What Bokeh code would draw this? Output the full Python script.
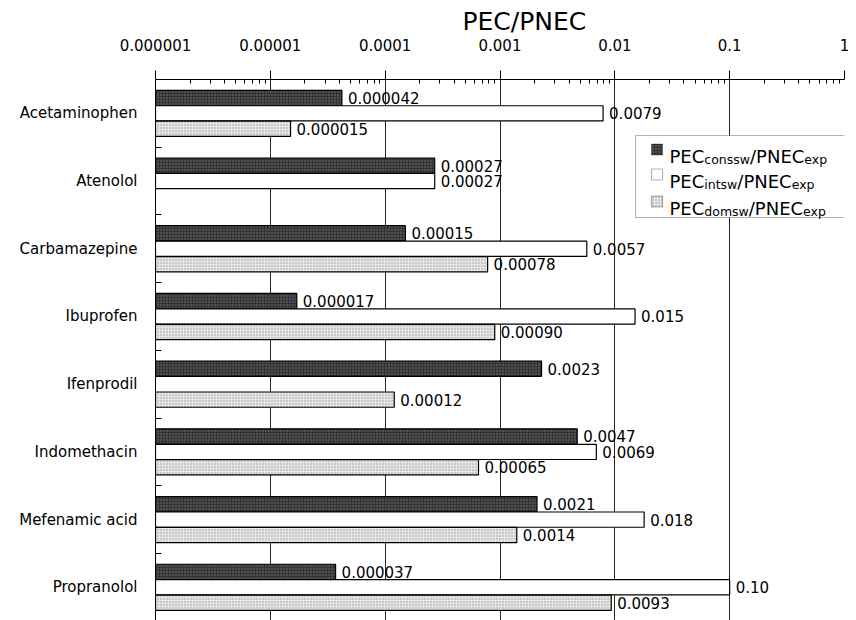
from bokeh.plotting import figure
from bokeh.models import (Range1d, FixedTicker, CustomJSTickFormatter, ColumnDataSource,
                          BoxAnnotation, Label, Title)
from bokeh.core.properties import value
from bokeh.embed import file_html
from bokeh.resources import INLINE

# ---------------- data ----------------
drugs = ["Acetaminophen", "Atenolol", "Carbamazepine", "Ibuprofen",
         "Ifenprodil", "Indomethacin", "Mefenamic acid", "Propranolol"]
cons_vals = [0.000042, 0.00027, 0.00015, 0.000017, 0.0023, 0.0047, 0.0021, 0.000037]
int_vals = [0.0079, 0.00027, 0.0057, 0.015, None, 0.0069, 0.018, 0.10]
dom_vals = [0.000015, None, 0.00078, 0.00090, 0.00012, 0.00065, 0.0014, 0.0093]
cons_lbls = ["0.000042", "0.00027", "0.00015", "0.000017", "0.0023", "0.0047", "0.0021", "0.000037"]
int_lbls = ["0.0079", "0.00027", "0.0057", "0.015", None, "0.0069", "0.018", "0.10"]
dom_lbls = ["0.000015", None, "0.00078", "0.00090", "0.00012", "0.00065", "0.0014", "0.0093"]
tick_vals = [1e-6, 1e-5, 1e-4, 1e-3, 1e-2, 1e-1, 1.0]
tick_labels = ["0.000001", "0.00001", "0.0001", "0.001", "0.01", "0.1", "1"]
axis_title = "PEC/PNEC"
legend_parts = [
    ("PEC", "conssw", "/PNEC", "exp"),
    ("PEC", "intsw", "/PNEC", "exp"),
    ("PEC", "domsw", "/PNEC", "exp"),
]

# ---------------- layout constants ----------------
W, H = 856, 620
LEFT, RIGHT, TOP = 155, 12, 79
FRAME_W = W - LEFT - RIGHT
FRAME_H = H - TOP
Y_SPAN = 7.99
CAT_PX = FRAME_H / Y_SPAN
FONT = "DejaVu Sans"
BAR_H = 0.225
OFFS = [-0.228, 0.0, 0.228]

n = len(drugs)

def px2x(px):
    return 10 ** ((px - LEFT) / FRAME_W * 6 - 6)

def px2y(py):
    return (py - TOP) / CAT_PX

p = figure(width=W, height=H, x_axis_type="log", x_axis_location="above",
           output_backend="svg", toolbar_location=None,
           x_range=Range1d(1e-6, 1.0), y_range=Range1d(Y_SPAN, 0),
           min_border_left=LEFT, min_border_right=RIGHT, min_border_top=TOP,
           min_border_bottom=0, outline_line_color=None,
           background_fill_color="white", border_fill_color="white")

# top axis
xa = p.xaxis[0]
minors = []
for d in tick_vals[:-1]:
    for k in range(2, 10):
        minors.append(d * k)
xa.ticker = FixedTicker(ticks=tick_vals, minor_ticks=minors)
xa.formatter = CustomJSTickFormatter(args=dict(labels=tick_labels),
                                     code="return labels[index];")
xa.major_label_text_font = FONT
xa.major_label_text_font_size = "15px"
xa.major_label_text_color = "black"
xa.major_label_standoff = 20
xa.major_tick_out = 9
xa.major_tick_in = 0
xa.minor_tick_out = 0
xa.minor_tick_in = 4
xa.axis_line_color = "black"
xa.major_tick_line_color = "black"
xa.minor_tick_line_color = "black"

# title above the axis
p.add_layout(Title(text=axis_title, align="left", offset=307, text_font=FONT,
                   text_font_size="25px", text_font_style="normal", text_color="black",
                   standoff=0), "above")

# left axis
ya = p.yaxis[0]
centers = [i + 0.5 for i in range(n)]
bounds = [float(i) for i in range(1, n)]
ya.ticker = FixedTicker(ticks=centers, minor_ticks=bounds)
ya.formatter = CustomJSTickFormatter(args=dict(labels=drugs), code="return labels[index];")
ya.major_label_text_font = FONT
ya.major_label_text_font_size = "15px"
ya.major_label_text_color = "black"
ya.major_label_standoff = 18
ya.major_tick_out = 0
ya.major_tick_in = 0
ya.minor_tick_in = 6
ya.minor_tick_out = 0
ya.axis_line_color = "black"
ya.minor_tick_line_color = "black"

p.ygrid.grid_line_color = None
p.xgrid.grid_line_color = "black"
p.xgrid.grid_line_alpha = 0.85
p.xgrid.ticker = FixedTicker(ticks=tick_vals)

# ---------------- bars ----------------
series = [
    (cons_vals, cons_lbls, dict(fill_color="#333333", hatch_pattern=".", hatch_color="#7a7a7a",
                                hatch_scale=3, hatch_weight=1)),
    (int_vals, int_lbls, dict(fill_color="white")),
    (dom_vals, dom_lbls, dict(fill_color="#e6e6e6", hatch_pattern=".", hatch_color="#9a9a9a",
                              hatch_scale=3, hatch_weight=1)),
]
for (vals, lbls, style), off in zip(series, OFFS):
    ys, xs, ls = [], [], []
    for i, (v, l) in enumerate(zip(vals, lbls)):
        if v is None:
            continue
        ys.append(i + 0.5 + off)
        xs.append(v)
        ls.append(l)
    src = ColumnDataSource(dict(y=ys, right=xs, lbl=ls))
    p.hbar(y="y", right="right", left=1e-6, height=BAR_H, source=src,
           line_color="black", line_width=1.2, **style)
    p.text(x="right", y="y", text="lbl", source=src, x_offset=6,
           text_baseline="middle", text_align="left", text_font_size="15px",
           text_font=value(FONT), text_color="black")

# ---------------- legend ----------------
p.add_layout(BoxAnnotation(left=px2x(635), right=px2x(848), top=px2y(135), bottom=px2y(217),
                           fill_color="white", fill_alpha=1.0, line_color="black",
                           line_width=1, level="overlay"))
sq_styles = [
    dict(fill_color="#333333", hatch_pattern=".", hatch_color="#7a7a7a", hatch_scale=3),
    dict(fill_color="white"),
    dict(fill_color="#e6e6e6", hatch_pattern=".", hatch_color="#9a9a9a", hatch_scale=3),
]
row_y = [149, 174, 201]
MAIN, SUB = 18, 12.5
wtab = {"P": .603, "E": .632, "C": .698, "N": .748, "/": .337, "c": .550, "o": .612,
        "n": .634, "s": .521, "w": .818, "i": .278, "t": .392, "d": .635, "m": .974,
        "e": .615, "x": .592, "p": .635}

def tw(s, size):
    return sum(wtab.get(ch, 0.6) for ch in s) * size

for parts, ry, st in zip(legend_parts, row_y, sq_styles):
    p.add_layout(BoxAnnotation(left=px2x(651), right=px2x(662), top=px2y(ry - 5.5),
                               bottom=px2y(ry + 5.5), fill_alpha=1.0, line_color="black",
                               line_width=1.2, level="overlay", **st))
    xo = 0.0
    for j, part in enumerate(parts):
        size = MAIN if j % 2 == 0 else SUB
        base = ry + 6.5 if j % 2 == 0 else ry + 9.5
        p.add_layout(Label(x=px2x(669), y=px2y(base), x_offset=xo, text=part,
                           text_align="left", text_baseline="alphabetic", text_font=FONT,
                           text_font_size=f"{size}px", text_color="black", level="overlay"))
        xo += tw(part, size)

open("out.html", "w").write(file_html(p, INLINE))
